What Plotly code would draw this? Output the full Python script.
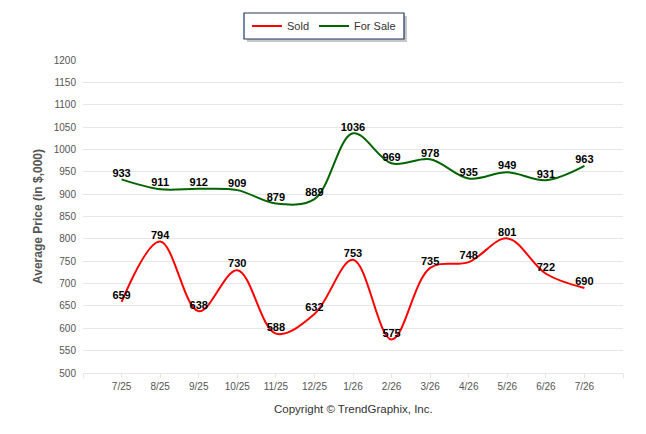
import plotly.graph_objects as go

months = ["7/25", "8/25", "9/25", "10/25", "11/25", "12/25", "1/26", "2/26", "3/26", "4/26", "5/26", "6/26", "7/26"]
sold = [659, 794, 638, 730, 588, 632, 753, 575, 735, 748, 801, 722, 690]
for_sale = [933, 911, 912, 909, 879, 889, 1036, 969, 978, 935, 949, 931, 963]
y_ticks = list(range(500, 1201, 50))

xs = list(range(len(months)))

# figure geometry (page has an 8px body margin)
W, H = 638, 426
ML, MR, MT, MB = 75, 23, 52, 61
PW, PH = W - ML - MR, H - MT - MB


def px_to_paper_x(px):
    return (px - ML) / PW


def px_to_paper_y(py):
    return (H - MB - py) / PH


fig = go.Figure()
for name, vals, color in [("Sold", sold, "#ff0000"), ("For Sale", for_sale, "#006400")]:
    fig.add_trace(go.Scatter(
        x=xs, y=vals, name=name, mode="lines+text",
        line=dict(color=color, width=2, shape="spline", smoothing=1),
        text=[str(v) for v in vals], textposition="top center",
        textfont=dict(family="Liberation Sans, Arial", size=11, color="#000000", weight="bold"),
        cliponaxis=False,
    ))

# legend frame with drop shadow (drawn as shapes, legend itself is borderless)
fig.add_shape(type="rect", xref="paper", yref="paper", layer="above",
              x0=px_to_paper_x(239), x1=px_to_paper_x(399),
              y0=px_to_paper_y(8), y1=px_to_paper_y(34),
              line=dict(width=0), fillcolor="rgba(0,0,0,0.22)")
fig.add_shape(type="rect", xref="paper", yref="paper", layer="above",
              x0=px_to_paper_x(236), x1=px_to_paper_x(396),
              y0=px_to_paper_y(5), y1=px_to_paper_y(31),
              line=dict(width=1.2, color="#1f3864"), fillcolor="white")

fig.update_layout(
    width=W, height=H,
    margin=dict(l=ML, r=MR, t=MT, b=MB),
    paper_bgcolor="white", plot_bgcolor="white",
    font=dict(family="Liberation Sans, Arial", size=12, color="#333333"),
    showlegend=True,
    legend=dict(orientation="h", xref="container", yref="container",
                x=316 / W, xanchor="center", y=1 - 18 / H, yanchor="middle",
                borderwidth=0, bgcolor="rgba(0,0,0,0)",
                font=dict(family="Liberation Sans, Arial", size=11, color="#333333")),
    xaxis=dict(range=[-1, 13], tickmode="array", tickvals=list(range(-1, 14)),
               ticktext=[""] + months + [""], showgrid=False, zeroline=False,
               showline=True, linecolor="#e6e6e6", ticks="outside", tickcolor="#e6e6e6",
               ticklen=4, ticklabelstandoff=0, tickfont=dict(size=10, color="#555555")),
    yaxis=dict(range=[500, 1200], tickvals=y_ticks, showgrid=True, gridcolor="#e6e6e6",
               zeroline=False, showline=False, tickfont=dict(size=10, color="#555555"),
               ticklabelstandoff=6,
               title=dict(text="Average Price (in $,000)", standoff=8,
                          font=dict(size=12, color="#555555", weight="bold"))),
    annotations=[dict(text="Copyright © TrendGraphix, Inc.", xref="paper", yref="paper",
                      x=0.5, y=px_to_paper_y(401), xanchor="center", yanchor="middle",
                      showarrow=False, font=dict(size=11.5, color="#333333"))],
)

fig.write_html("out.html")
